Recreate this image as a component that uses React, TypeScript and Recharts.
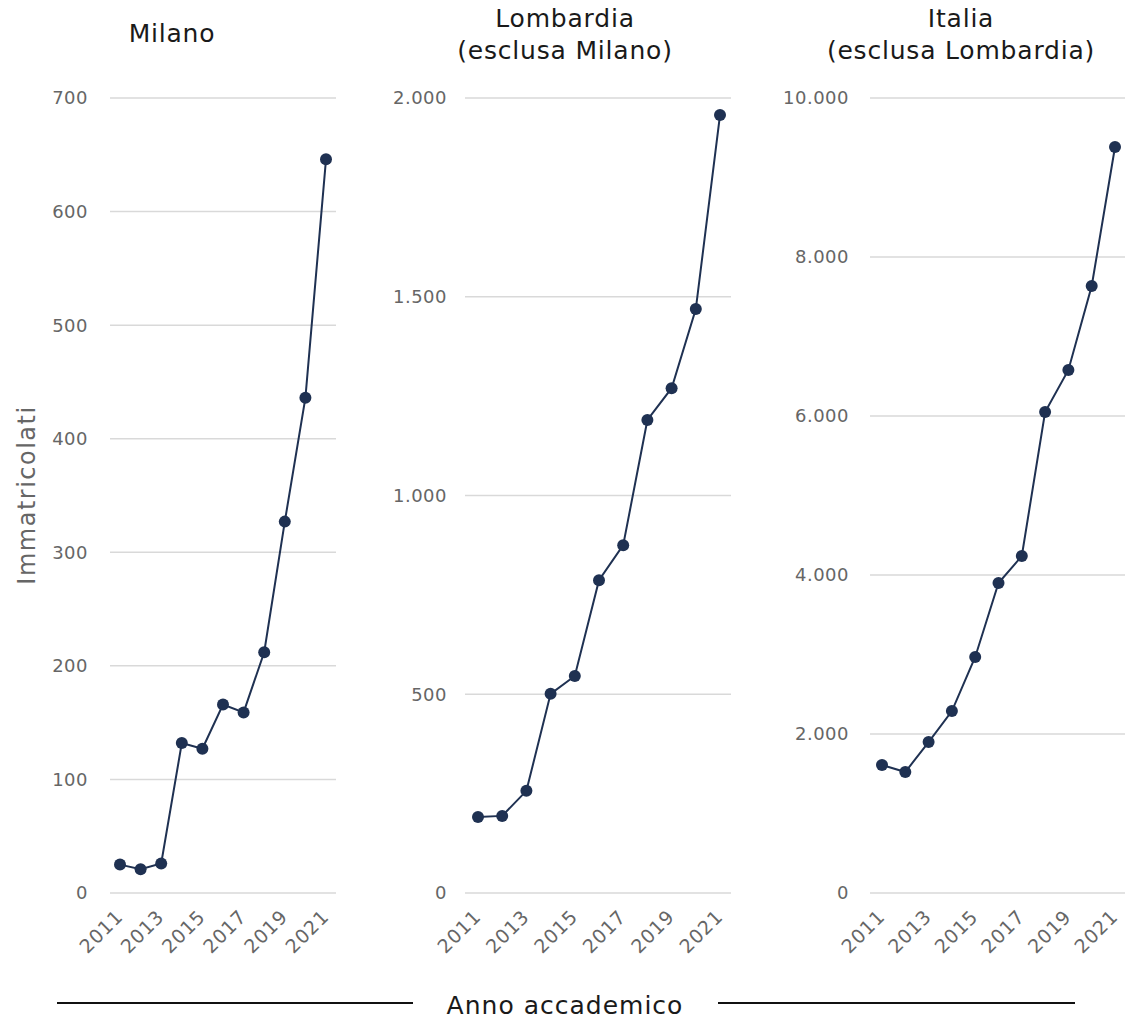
import { CartesianGrid, Line, LineChart, XAxis, YAxis } from "recharts";

const years = [2011, 2012, 2013, 2014, 2015, 2016, 2017, 2018, 2019, 2020, 2021];
const yearTicks = [2011, 2013, 2015, 2017, 2019, 2021];

const milano = [25, 21, 26, 132, 127, 166, 159, 212, 327, 436, 646];
const lombardia = [191, 194, 257, 501, 546, 787, 875, 1190, 1270, 1469, 1957];
const italia = [1610, 1522, 1899, 2289, 2969, 3899, 4239, 6050, 6579, 7635, 9384];

const milanoTicks = [0, 100, 200, 300, 400, 500, 600, 700];
const lombardiaTicks = [0, 500, 1000, 1500, 2000];
const italiaTicks = [0, 2000, 4000, 6000, 8000, 10000];

const FONT = "'DejaVu Sans', sans-serif";
const NAVY = "#1f3152";
const GREY = "#666666";

// thousands with a dot, italian style
const fmt = (v: number) => String(v).replace(/\B(?=(\d{3})+(?!\d))/g, ".");

function YearTick(props: any) {
  const { x, y, payload } = props;
  const tx = x + 4;
  const ty = y + 17;
  return (
    <text
      x={tx}
      y={ty}
      transform={`rotate(-45, ${tx}, ${ty})`}
      textAnchor="end"
      fill={GREY}
      fontSize={19}
      letterSpacing={0.8}
      fontFamily={FONT}
    >
      {payload.value}
    </text>
  );
}

interface PanelProps {
  values: number[];
  ticks: number[];
  left: number;
  width: number;
  pad: { left: number; right: number };
  tickGap: number;
}

function Panel({ values, ticks, left, width, pad, tickGap }: PanelProps) {
  const data = years.map((y, i) => ({ year: y, value: values[i] }));
  return (
    <div style={{ position: "absolute", left, top: 0 }}>
      <LineChart
        width={width}
        height={960}
        data={data}
        margin={{ top: 98, right: 0, bottom: 0, left: 0 }}
        style={{ overflow: "visible" }}
      >
        <CartesianGrid vertical={false} stroke="#d9d9d9" strokeWidth={1.5} />
        <XAxis
          dataKey="year"
          type="number"
          domain={[2011, 2021]}
          ticks={yearTicks}
          padding={pad}
          axisLine={false}
          tickLine={false}
          height={67}
          interval={0}
          tick={<YearTick />}
        />
        <YAxis
          domain={[0, ticks[ticks.length - 1]]}
          ticks={ticks}
          width={100}
          axisLine={false}
          tickLine={false}
          tickSize={0}
          tickMargin={tickGap}
          tickFormatter={fmt}
          tick={{ fill: GREY, fontSize: 18, fontFamily: FONT, letterSpacing: 0.5 }}
        />
        <Line
          dataKey="value"
          stroke={NAVY}
          strokeWidth={2}
          dot={{ r: 6, fill: NAVY, stroke: NAVY, strokeWidth: 0 }}
          isAnimationActive={false}
        />
      </LineChart>
    </div>
  );
}

const titleStyle: React.CSSProperties = {
  position: "absolute",
  fontFamily: FONT,
  fontSize: 25,
  letterSpacing: 0.8,
  color: "#1a1a1a",
  textAlign: "center",
  lineHeight: "32px",
  whiteSpace: "nowrap",
  transform: "translateX(-50%)",
};

export default function App() {
  return (
    <div
      style={{
        position: "absolute",
        left: 0,
        top: 0,
        width: 1125,
        height: 1018,
        background: "#fff",
        overflow: "hidden",
      }}
    >
      <div style={{ ...titleStyle, left: 172, top: 18 }}>Milano</div>
      <div style={{ ...titleStyle, left: 565, top: 3 }}>
        Lombardia
        <br />
        (esclusa Milano)
      </div>
      <div style={{ ...titleStyle, left: 961, top: 3 }}>
        Italia
        <br />
        (esclusa Lombardia)
      </div>

      <Panel values={milano} ticks={milanoTicks} left={10} width={326} pad={{ left: 10, right: 10 }} tickGap={22} />
      <Panel values={lombardia} ticks={lombardiaTicks} left={365} width={366} pad={{ left: 13, right: 11 }} tickGap={18} />
      <Panel values={italia} ticks={italiaTicks} left={770} width={355} pad={{ left: 12, right: 10 }} tickGap={21} />

      <div
        style={{
          position: "absolute",
          left: 27,
          top: 495,
          transform: "translate(-50%, -50%) rotate(-90deg)",
          fontFamily: FONT,
          fontSize: 24,
          letterSpacing: 1.5,
          color: GREY,
          whiteSpace: "nowrap",
        }}
      >
        Immatricolati
      </div>

      <div style={{ position: "absolute", left: 57, top: 1002, width: 356, height: 2, background: "#111" }} />
      <div style={{ position: "absolute", left: 718, top: 1002, width: 357, height: 2, background: "#111" }} />
      <div
        style={{
          position: "absolute",
          left: 565,
          top: 1005,
          transform: "translate(-50%, -50%)",
          fontFamily: FONT,
          fontSize: 25,
          letterSpacing: 1,
          color: "#1a1a1a",
          whiteSpace: "nowrap",
        }}
      >
        Anno accademico
      </div>
    </div>
  );
}
